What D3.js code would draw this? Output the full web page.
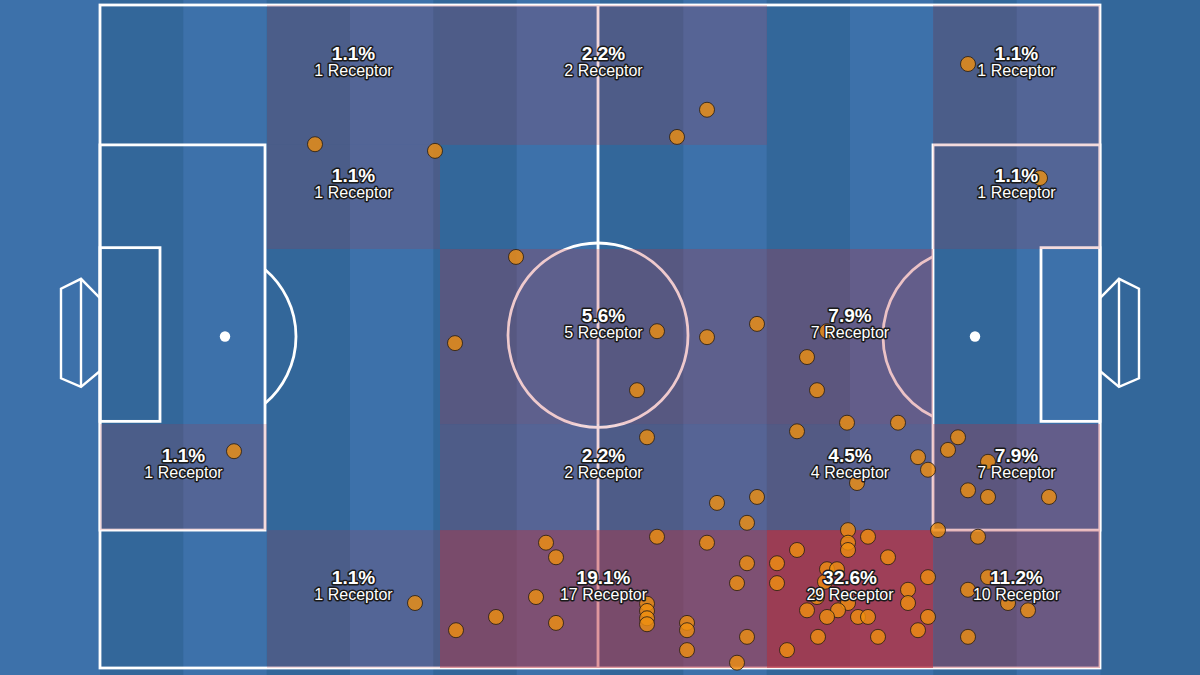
<!DOCTYPE html>
<html><head><meta charset="utf-8">
<script src="https://cdn.jsdelivr.net/npm/d3@7"></script>
<style>html,body{margin:0;padding:0;background:#3d71aa;} svg{display:block;}</style>
</head><body><svg id="c" width="1200" height="675"></svg>
<script>
// Zone grid (pitch units 0-100, x = length, y = width, top to bottom)
const colEdges = [0, 16.7, 34, 66.7, 83.3, 100];
const rowEdges = [0, 21.1, 36.8, 63.2, 79.2, 100];
// receptor counts per zone, rows top->bottom, cols left->right
const zoneCounts = [
  [0, 1, 2, 0, 1],
  [0, 1, 0, 0, 1],
  [0, 0, 5, 7, 0],
  [1, 0, 2, 4, 7],
  [0, 1, 17, 29, 10]
];
const countWord = "Receptor";
// receptor locations (pitch units)
const pointX = [21.5,33.5,60.7,57.7,86.8,94.0,41.6,35.5,55.7,60.7,65.7,53.7,72.7,70.7,71.7,74.7,79.8,13.4,31.5,
  54.7,61.7,65.7,64.7,69.7,75.7,81.8,82.8,85.8,84.8,88.8,86.8,88.8,94.9,83.8,87.8,88.8,86.8,90.8,92.8,86.8,
  55.7,60.7,44.6,45.6,64.7,63.7,43.6,39.6,35.6,45.6,54.7,54.7,54.7,54.7,58.7,58.7,58.7,64.7,63.7,
  74.8,74.8,74.8,76.8,69.7,78.8,67.7,67.7,72.7,73.7,72.5,71.7,82.8,80.8,80.8,74.8,73.8,70.7,72.7,75.8,76.8,82.8,81.8,71.8,77.8,68.7];
const pointY = [21.0,22.0,15.8,19.9,8.9,26.1,38.0,51.0,49.2,50.1,48.1,58.1,49.2,53.1,58.1,63.0,63.0,67.3,90.2,
  65.2,75.1,74.2,78.1,64.3,72.1,68.2,70.1,65.2,67.1,68.9,73.2,74.2,74.2,79.2,80.2,86.3,88.2,90.2,91.3,95.3,
  80.2,81.1,81.1,83.3,84.2,87.2,89.3,92.3,94.3,93.2,90.3,91.4,92.5,93.4,93.2,94.3,97.3,95.3,99.2,
  79.2,81.1,82.2,80.2,82.2,83.3,84.2,87.2,85.1,85.1,87.0,89.3,86.3,88.2,90.2,90.2,91.3,91.3,92.3,92.3,92.3,92.3,94.3,95.3,95.3,97.3];

const W = 1200, H = 675;
const svg = d3.select("#c");
const x = d3.scaleLinear().domain([0, 100]).range([100, 1100]);
const y = d3.scaleLinear().domain([0, 100]).range([5, 668]);

const darkStripe = "#33679a", lightStripe = "#3d71aa";
// outside areas
svg.append("rect").attr("x", 0).attr("y", 0).attr("width", x(0)).attr("height", H).attr("fill", lightStripe);
svg.append("rect").attr("x", x(100)).attr("y", 0).attr("width", W - x(100)).attr("height", H).attr("fill", darkStripe);
// stripes
const stripes = d3.range(12);
svg.append("g").selectAll("rect").data(stripes).join("rect")
  .attr("x", i => x(i * 100 / 12)).attr("y", 0)
  .attr("width", x(100 / 12) - x(0) + 0.5).attr("height", H)
  .attr("fill", i => i % 2 === 0 ? darkStripe : lightStripe);

// pitch lines
const lines = svg.append("g").attr("fill", "none").attr("stroke", "#fff").attr("stroke-width", 2.8);
function box(x0, x1, y0, y1) {
  lines.append("rect").attr("x", x(x0)).attr("y", y(y0)).attr("width", x(x1) - x(x0)).attr("height", y(y1) - y(y0));
}
box(0, 100, 0, 100);
box(0, 16.5, 21.1, 79.2);
box(83.3, 100, 21.1, 79.2);
box(0, 6, 36.6, 62.8);
box(94.1, 100, 36.6, 62.8);
lines.append("line").attr("x1", x(49.8)).attr("x2", x(49.8)).attr("y1", y(0)).attr("y2", y(100));
lines.append("ellipse").attr("cx", x(49.8)).attr("cy", y(49.8)).attr("rx", x(9) - x(0)).attr("ry", y(13.9) - y(0));
// penalty arcs
(function () {
  const cy = y(50);
  let cx = x(10.8), r = x(8.8) - x(0), bx = x(16.5);
  let a = Math.acos((bx - cx) / r);
  let p = d3.path(); p.arc(cx, cy, r, -a, a);
  lines.append("path").attr("d", p.toString());
  cx = x(87.2); r = x(8.9) - x(0); bx = x(83.3);
  a = Math.acos((cx - bx) / r);
  p = d3.path(); p.arc(cx, cy, r, Math.PI - a, Math.PI + a);
  lines.append("path").attr("d", p.toString());
})();
// spots
[12.5, 87.5].forEach(v => svg.append("circle").attr("cx", x(v)).attr("cy", y(50)).attr("r", 5.2).attr("fill", "#fff"));
// goals
function goal(sign) {
  const b = sign < 0 ? 0 : 100;
  const gx = v => x(b + sign * v);
  const pts = [[0, 44.2], [1.9, 41.3], [3.9, 42.8], [3.9, 56.3], [1.9, 57.6], [0, 55.2]];
  lines.append("polyline").attr("points", pts.map(p => gx(p[0]) + "," + y(p[1])).join(" ")).attr("stroke-width", 2.4);
  lines.append("line").attr("x1", gx(1.9)).attr("x2", gx(1.9)).attr("y1", y(41.3)).attr("y2", y(57.6)).attr("stroke-width", 2.4);
}
goal(-1); goal(1);

// zones
const zones = [];
zoneCounts.forEach((row, ri) => row.forEach((c, ci) => zones.push({ ri, ci, c })));
const total = d3.sum(zones, d => d.c);
const maxC = d3.max(zones, d => d.c);
const op = d3.scaleLinear().domain([0, maxC]).range([0.15, 0.75]);
const nz = zones.filter(d => d.c > 0);
svg.append("g").selectAll("rect").data(nz).join("rect")
  .attr("x", d => x(colEdges[d.ci])).attr("y", d => y(rowEdges[d.ri]))
  .attr("width", d => x(colEdges[d.ci + 1]) - x(colEdges[d.ci]))
  .attr("height", d => y(rowEdges[d.ri + 1]) - y(rowEdges[d.ri]))
  .attr("fill", "#bf2f3c").attr("fill-opacity", d => op(d.c));

// points
const pts = pointX.map((v, i) => ({ x: v, y: pointY[i] }));
svg.append("g").selectAll("circle").data(pts).join("circle")
  .attr("cx", d => x(d.x)).attr("cy", d => y(d.y)).attr("r", 7.5)
  .attr("fill", "#f0900f").attr("fill-opacity", 0.8)
  .attr("stroke", "#2a2014").attr("stroke-opacity", 0.85).attr("stroke-width", 1);

// labels
const lab = svg.append("g").attr("text-anchor", "middle").attr("fill", "#fff")
  .attr("stroke", "#1a1a1a").attr("stroke-linejoin", "round").style("paint-order", "stroke")
  .attr("font-family", "Liberation Sans, Arial, sans-serif");
nz.forEach(d => {
  const cx = (x(colEdges[d.ci]) + x(colEdges[d.ci + 1])) / 2;
  const cy = (y(rowEdges[d.ri]) + y(rowEdges[d.ri + 1])) / 2;
  lab.append("text").attr("x", cx).attr("y", cy - 15).attr("font-size", 19).attr("font-weight", "bold")
    .attr("stroke-width", 3).text((d.c / total * 100).toFixed(1) + "%");
  lab.append("text").attr("x", cx).attr("y", cy + 1).attr("font-size", 16)
    .attr("stroke-width", 3).text(d.c + " " + countWord);
});
</script></body></html>
